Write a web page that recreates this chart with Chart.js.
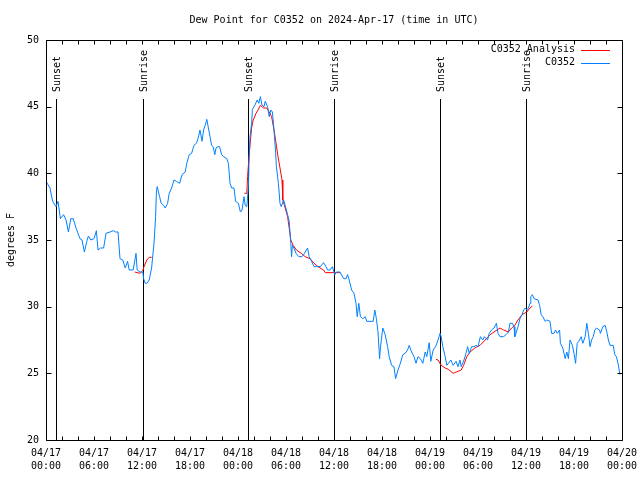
<!DOCTYPE html>
<html>
<head>
<meta charset="utf-8">
<script src="https://cdn.jsdelivr.net/npm/chart.js@4.4.0/dist/chart.umd.min.js"></script>
<style>
html, body { margin: 0; padding: 0; background: #fff; }
#wrap { width: 640px; height: 480px; }
</style>
</head>
<body>
<div id="wrap"><canvas id="dewChart"></canvas></div>
<script>
// horas desde 2024-04-17 00:00 UTC
const obsHours = [
  0, 0.5, 0.83, 1.25, 1.5, 1.8, 2.2, 2.5, 2.8, 3.1, 3.4, 3.75, 4.25, 4.5, 4.8, 5.1, 5.3, 5.6, 6.0, 6.3,
  6.5, 6.8, 7.2, 7.5, 8.0, 8.4, 8.7, 9.0, 9.25, 9.6, 9.9, 10.2, 10.4, 10.9, 11.25, 11.4, 11.75, 12.1, 12.2, 12.4,
  12.6, 12.9, 13.2, 13.5, 13.7, 13.8, 13.9, 14.2, 14.4, 14.7, 14.9, 15.2, 15.4, 15.7, 16.0, 16.3, 16.7, 17.0, 17.4, 17.6,
  17.9, 18.2, 18.5, 18.8, 19.0, 19.25, 19.5, 19.7, 19.9, 20.1, 20.3, 20.5, 20.7, 20.9, 21.1, 21.25, 21.5, 21.7, 21.95, 22.2,
  22.6, 22.8, 23.0, 23.2, 23.5, 23.7, 24.05, 24.3, 24.5, 24.75, 24.9, 25.1, 25.3, 25.4, 25.5, 25.7, 25.8, 26.1, 26.4, 26.6,
  26.8, 27.0, 27.25, 27.4, 27.7, 27.9, 28.1, 28.3, 28.5, 28.7, 28.8, 29.05, 29.25, 29.4, 29.7, 29.9, 30.2, 30.4, 30.6, 30.7,
  30.8, 31.1, 31.25, 31.6, 32.0, 32.2, 32.4, 32.7, 32.9, 33.2, 33.5, 33.8, 34.3, 34.7, 35.0, 35.2, 35.5, 35.8, 36.1, 36.3,
  36.75, 37.2, 37.5, 37.7, 37.9, 38.2, 38.5, 38.75, 38.9, 39.1, 39.3, 39.6, 39.9, 40.1, 40.5, 40.9, 41.1, 41.3, 41.5, 41.7,
  41.8, 42.1, 42.4, 42.7, 42.9, 43.2, 43.5, 43.7, 44.0, 44.3, 44.6, 44.9, 45.2, 45.4, 45.7, 46.0, 46.25, 46.5, 46.8, 47.1,
  47.4, 47.6, 47.9, 48.1, 48.4, 48.7, 49.0, 49.25, 49.4, 49.6, 49.9, 50.1, 50.3, 50.6, 50.9, 51.25, 51.5, 51.75, 51.9, 52.25,
  52.5, 52.7, 52.9, 53.2, 53.5, 53.75, 54.0, 54.3, 54.6, 54.8, 55.2, 55.4, 55.7, 56.0, 56.3, 56.5, 56.75, 57.2, 57.5, 57.8,
  58.0, 58.3, 58.5, 58.6, 58.8, 59.0, 59.25, 59.5, 59.7, 59.9, 60.1, 60.3, 60.5, 60.6, 60.8, 61.0, 61.5, 61.7, 61.9, 62.1,
  62.4, 62.6, 63.0, 63.2, 63.5, 63.7, 63.9, 64.2, 64.3, 64.6, 64.9, 65.1, 65.3, 65.5, 65.8, 66.0, 66.2, 66.4, 66.6, 66.9,
  67.1, 67.4, 67.6, 67.8, 68.0, 68.2, 68.4, 68.6, 68.8, 69.2, 69.3, 69.6, 69.9, 70.1, 70.3, 70.5, 70.9, 71.1, 71.3, 71.5,
  71.75, 71.8
];
const obsValues = [
  39.4, 38.9, 37.9, 37.5, 37.9, 36.6, 36.9, 36.5, 35.6, 36.6, 36.6, 35.9, 35.1, 35.0, 34.1, 34.9, 35.3, 35.0, 35.1, 35.7,
  34.25, 34.4, 34.4, 35.5, 35.6, 35.7, 35.6, 35.6, 33.6, 33.5, 32.9, 33.4, 32.75, 32.75, 34.0, 32.75, 32.6, 32.6, 32.1, 31.75,
  31.75, 32.0, 32.9, 34.75, 36.75, 38.6, 39.0, 38.25, 37.75, 37.6, 37.4, 37.75, 38.5, 38.9, 39.5, 39.4, 39.25, 39.9, 40.1, 40.75,
  41.4, 41.5, 42.1, 42.25, 42.6, 43.25, 42.4, 43.25, 43.6, 44.05, 43.4, 42.75, 42.1, 42.0, 41.4, 41.9, 42.0, 42.0, 41.4, 41.25,
  41.1, 40.75, 39.25, 38.9, 38.9, 37.9, 37.75, 37.1, 37.25, 38.25, 37.6, 37.5, 39.0, 41.25, 42.75, 43.75, 44.8, 45.1, 45.5, 45.25,
  45.75, 45.1, 45.0, 45.4, 45.0, 44.25, 44.75, 44.6, 43.25, 41.6, 40.5, 39.25, 37.75, 37.5, 38.0, 37.6, 36.9, 36.4, 34.75, 33.75,
  34.6, 34.25, 34.0, 33.75, 33.75, 33.9, 34.1, 34.4, 33.75, 33.4, 33.0, 33.0, 33.0, 33.3, 33.0, 32.75, 32.75, 33.0, 32.4, 32.6,
  32.6, 32.1, 32.1, 32.4, 32.0, 31.25, 31.0, 30.25, 29.25, 30.25, 29.25, 29.1, 29.25, 28.9, 28.9, 28.9, 29.75, 29.1, 28.1, 26.1,
  26.9, 28.4, 27.9, 27.0, 26.25, 25.6, 25.5, 24.6, 25.25, 25.75, 26.4, 26.5, 26.75, 27.1, 26.6, 26.25, 25.75, 26.25, 26.1, 25.75,
  26.6, 26.25, 27.3, 25.9, 26.75, 27.0, 27.5, 28.0, 27.75, 27.0, 26.25, 25.6, 25.75, 26.0, 25.6, 25.9, 25.5, 26.0, 25.5, 26.0,
  26.5, 27.0, 26.5, 27.0, 27.0, 27.1, 27.0, 27.75, 27.5, 27.75, 27.5, 28.0, 28.25, 28.4, 28.75, 28.0, 27.75, 27.75, 27.9, 28.1,
  28.75, 28.75, 28.5, 27.75, 28.1, 28.5, 29.1, 29.4, 29.75, 29.9, 29.75, 29.9, 30.25, 30.75, 30.9, 30.6, 30.5, 30.1, 29.4, 29.25,
  28.9, 29.0, 28.9, 28.0, 28.0, 28.25, 28.0, 28.25, 27.25, 26.9, 26.1, 26.6, 26.1, 27.5, 27.1, 26.5, 25.75, 27.25, 27.4, 27.75,
  27.25, 27.75, 28.75, 28.0, 27.0, 27.5, 27.75, 28.25, 28.4, 28.25, 28.0, 28.5, 28.6, 28.1, 27.5, 27.1, 27.1, 26.4, 26.25, 25.75,
  24.9, 24.9
];

// análisis: null corta la línea entre tramos
const anaHours = [
  11.1, 11.75, 12.1, 12.25, 12.6, 12.9, 13.2,
  18,
  24.8, 25.1, 25.2, 25.3, 25.5, 25.7, 25.9, 26.25, 26.5, 26.8, 27.2, 27.6, 27.9, 28.2, 28.5, 28.8, 29.0, 29.25, 29.5, 29.6,
  29.9, 30.2, 30.4, 30.6, 30.9, 31.3, 31.9, 32.4, 33.0, 33.5, 34.0, 34.7, 34.9, 36.0, 36.75,
  42,
  48.75, 49.0, 49.4, 49.9, 50.3, 50.9, 51.3, 51.9, 52.2, 52.6, 53.0, 53.6, 54.25, 54.9, 55.5, 56.0, 56.75, 57.2, 57.8, 58.2,
  58.6, 59.0, 59.5, 60.1, 60.5, 60.8
];
const anaValues = [
  32.6, 32.5, 32.7, 33.0, 33.5, 33.7, 33.7,
  null,
  38.5, 38.5, 39.75, 40.6, 42.1, 43.4, 44.0, 44.5, 44.75, 45.1, 44.9, 44.9, 44.6, 44.25, 43.25, 42.1, 41.25, 40.4, 39.5, 38.0,
  37.4, 36.75, 35.9, 35.0, 34.6, 34.25, 34.0, 33.75, 33.6, 33.25, 33.0, 32.75, 32.55, 32.55, 32.55,
  null,
  26.05, 26.0, 25.6, 25.4, 25.3, 25.0, 25.1, 25.25, 25.6, 26.25, 26.6, 26.9, 27.1, 27.5, 27.9, 28.1, 28.4, 28.25, 28.1, 28.4,
  28.6, 29.0, 29.4, 29.6, 29.9, 30.05
];

const xTickLabels = [
  ['04/17', '00:00'], ['04/17', '06:00'], ['04/17', '12:00'], ['04/17', '18:00'],
  ['04/18', '00:00'], ['04/18', '06:00'], ['04/18', '12:00'], ['04/18', '18:00'],
  ['04/19', '00:00'], ['04/19', '06:00'], ['04/19', '12:00'], ['04/19', '18:00'],
  ['04/20', '00:00']
];

const sunHours = [1.25, 12.1, 25.3, 36.05, 49.3, 60.0];
const sunLabels = ['Sunset', 'Sunrise', 'Sunset', 'Sunrise', 'Sunset', 'Sunrise'];

const FONT = "'DejaVu Sans Mono', monospace";

// Marco, marcas hacia adentro, líneas de sol y leyenda estilo gnuplot
const gnuplotLook = {
  id: 'gnuplotLook',
  beforeDatasetsDraw(chart) {
    const { ctx, chartArea: a, scales: { x } } = chart;
    ctx.save();
    ctx.strokeStyle = '#000';
    ctx.fillStyle = '#000';
    ctx.lineWidth = 1;
    ctx.font = '10px ' + FONT;
    sunHours.forEach((h, i) => {
      const px = Math.round(x.getPixelForValue(h)) + 0.5;
      ctx.beginPath();
      ctx.moveTo(px, a.top + 59);
      ctx.lineTo(px, a.bottom);
      ctx.stroke();
      ctx.save();
      ctx.translate(px + 1, a.top + 52);
      ctx.rotate(-Math.PI / 2);
      ctx.textAlign = 'left';
      ctx.textBaseline = 'middle';
      ctx.fillText(sunLabels[i], 0, 0);
      ctx.restore();
    });
    ctx.restore();
  },
  afterDatasetsDraw(chart) {
    const { ctx, chartArea: a, scales: { x, y } } = chart;
    const L = Math.round(a.left) + 0.5, R = Math.round(a.right) + 0.5;
    const T = Math.round(a.top) + 0.5, B = Math.round(a.bottom) + 0.5;
    ctx.save();
    ctx.strokeStyle = '#000';
    ctx.lineWidth = 1;
    ctx.beginPath();
    ctx.rect(L, T, R - L, B - T);
    for (let h = 0; h <= 72; h += 2) {
      const px = Math.round(x.getPixelForValue(h)) + 0.5;
      ctx.moveTo(px, B); ctx.lineTo(px, B - 4);
      ctx.moveTo(px, T); ctx.lineTo(px, T + 4);
    }
    for (let v = 20; v <= 50; v += 5) {
      const py = Math.round(y.getPixelForValue(v)) + 0.5;
      ctx.moveTo(L, py); ctx.lineTo(L + 5, py);
      ctx.moveTo(R, py); ctx.lineTo(R - 5, py);
    }
    ctx.stroke();

    // leyenda
    ctx.font = '10px ' + FONT;
    ctx.textAlign = 'right';
    ctx.textBaseline = 'middle';
    ctx.fillStyle = '#000';
    chart.data.datasets.forEach((ds, i) => {
      const ly = a.top + 9.5 + i * 13;
      ctx.fillText(ds.label, a.right - 47, ly);
      ctx.strokeStyle = ds.borderColor;
      ctx.beginPath();
      ctx.moveTo(a.right - 41, Math.round(ly) + 0.5);
      ctx.lineTo(a.right - 12, Math.round(ly) + 0.5);
      ctx.stroke();
    });
    ctx.restore();
  }
};

new Chart(document.getElementById('dewChart'), {
  type: 'line',
  data: {
    datasets: [
      {
        label: 'C0352 Analysis',
        data: anaHours.map((h, i) => ({ x: h, y: anaValues[i] })),
        borderColor: '#ff0000',
        borderWidth: 1,
        pointRadius: 0,
        spanGaps: false,
        order: 2
      },
      {
        label: 'C0352',
        data: obsHours.map((h, i) => ({ x: h, y: obsValues[i] })),
        borderColor: '#0080ff',
        borderWidth: 1,
        pointRadius: 0,
        order: 1
      }
    ]
  },
  options: {
    responsive: true,
    maintainAspectRatio: false,
    animation: false,
    devicePixelRatio: 1,
    layout: { padding: { left: 0, right: 18, top: 0, bottom: 0 } },
    elements: { line: { tension: 0 } },
    plugins: {
      legend: { display: false },
      tooltip: { enabled: false },
      title: {
        display: true,
        fullSize: false,
        text: 'Dew Point for C0352 on 2024-Apr-17 (time in UTC)',
        color: '#000',
        font: { family: FONT, size: 10, weight: 'normal', lineHeight: 1 },
        padding: { top: 15, bottom: 15 }
      }
    },
    scales: {
      x: {
        type: 'linear',
        min: 0,
        max: 72,
        grid: { display: false, drawTicks: false },
        border: { display: false },
        ticks: {
          stepSize: 6,
          autoSkip: false,
          maxRotation: 0,
          padding: 7,
          color: '#000',
          font: { family: FONT, size: 10, lineHeight: 1.3 },
          callback: v => xTickLabels[Math.round(v / 6)]
        },
        afterFit: s => { s.height = 40; s.paddingLeft = 0; s.paddingRight = 0; }
      },
      y: {
        min: 20,
        max: 50,
        grid: { display: false, drawTicks: false },
        border: { display: false },
        ticks: {
          stepSize: 5,
          padding: 7,
          color: '#000',
          font: { family: FONT, size: 10 }
        },
        title: {
          display: true,
          text: 'degrees F',
          color: '#000',
          font: { family: FONT, size: 10 },
          padding: { top: 5, bottom: 0 }
        },
        afterFit: s => { s.width = 46; s.paddingTop = 0; s.paddingBottom = 0; }
      }
    }
  },
  plugins: [gnuplotLook]
});
</script>
</body>
</html>
